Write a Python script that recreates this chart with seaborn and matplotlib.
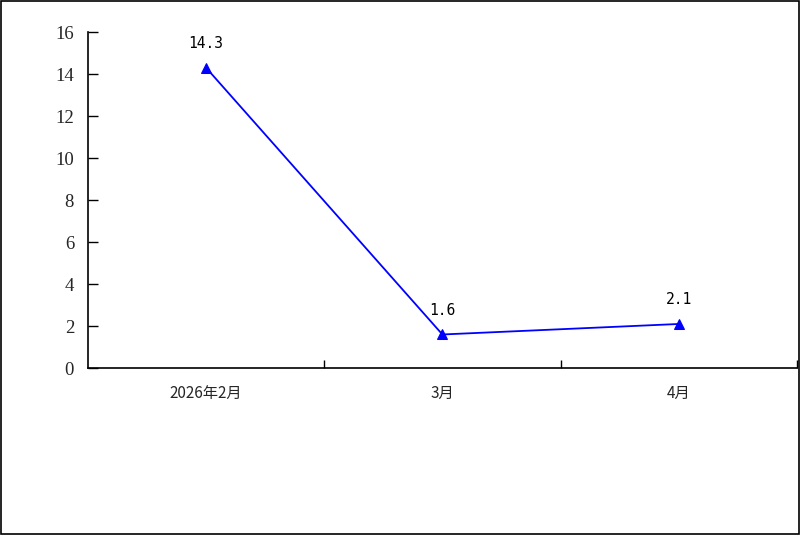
import numpy as np
import pandas as pd
import matplotlib
matplotlib.use("Agg")
import matplotlib.pyplot as plt
import seaborn as sns
from matplotlib.patches import Rectangle

months = ["2026年2月", "3月", "4月"]
values = [14.3, 1.6, 2.1]
value_labels = ["14.3", "1.6", "2.1"]
y_ticks = [0, 2, 4, 6, 8, 10, 12, 14, 16]

sns.set_style("white")
plt.rcParams["font.family"] = ["Noto Sans CJK SC", "DejaVu Sans"]

df = pd.DataFrame({"month": months, "value": values})

fig = plt.figure(figsize=(8, 5.35), dpi=100)
ax = fig.add_axes([0.11, 0.312, 0.886, 0.628])

sns.lineplot(x="month", y="value", data=df, ax=ax, color="#0000FF",
             marker="^", markersize=7, markeredgecolor="#0000FF",
             linewidth=1.3, sort=False)

for i, (v, lab) in enumerate(zip(values, value_labels)):
    ax.annotate(lab, (i, v), xytext=(0, 12), textcoords="offset points",
                ha="center", va="bottom", fontsize=10.5,
                family=["DejaVu Sans Mono"], color="black")

ax.set_xlim(-0.5, 2.5)
ax.set_ylim(0, 16)
ax.set_yticks(y_ticks)
ax.set_yticklabels([str(t) for t in y_ticks], family=["Liberation Serif"], fontsize=13.5)
ax.set_xticks(range(len(months)))
ax.set_xticklabels(months, fontsize=11)
ax.set_xticks([0.5, 1.5, 2.5], minor=True)
ax.tick_params(axis="x", which="major", bottom=True, length=0, pad=12)
ax.tick_params(axis="x", which="minor", bottom=True, direction="in", length=6,
               width=1, color="black")
ax.tick_params(axis="y", which="major", left=True, direction="in", length=7,
               width=1, color="black", pad=10)
ax.set_xlabel("")
ax.set_ylabel("")

for s in ["top", "right"]:
    ax.spines[s].set_visible(False)
for s in ["left", "bottom"]:
    ax.spines[s].set_color("black")
    ax.spines[s].set_linewidth(1.2)

fig.patches.append(Rectangle((0.001, 0.001), 0.998, 0.997, transform=fig.transFigure,
                             fill=False, edgecolor="black", linewidth=1.2))

fig.savefig("out.png", dpi=100)
